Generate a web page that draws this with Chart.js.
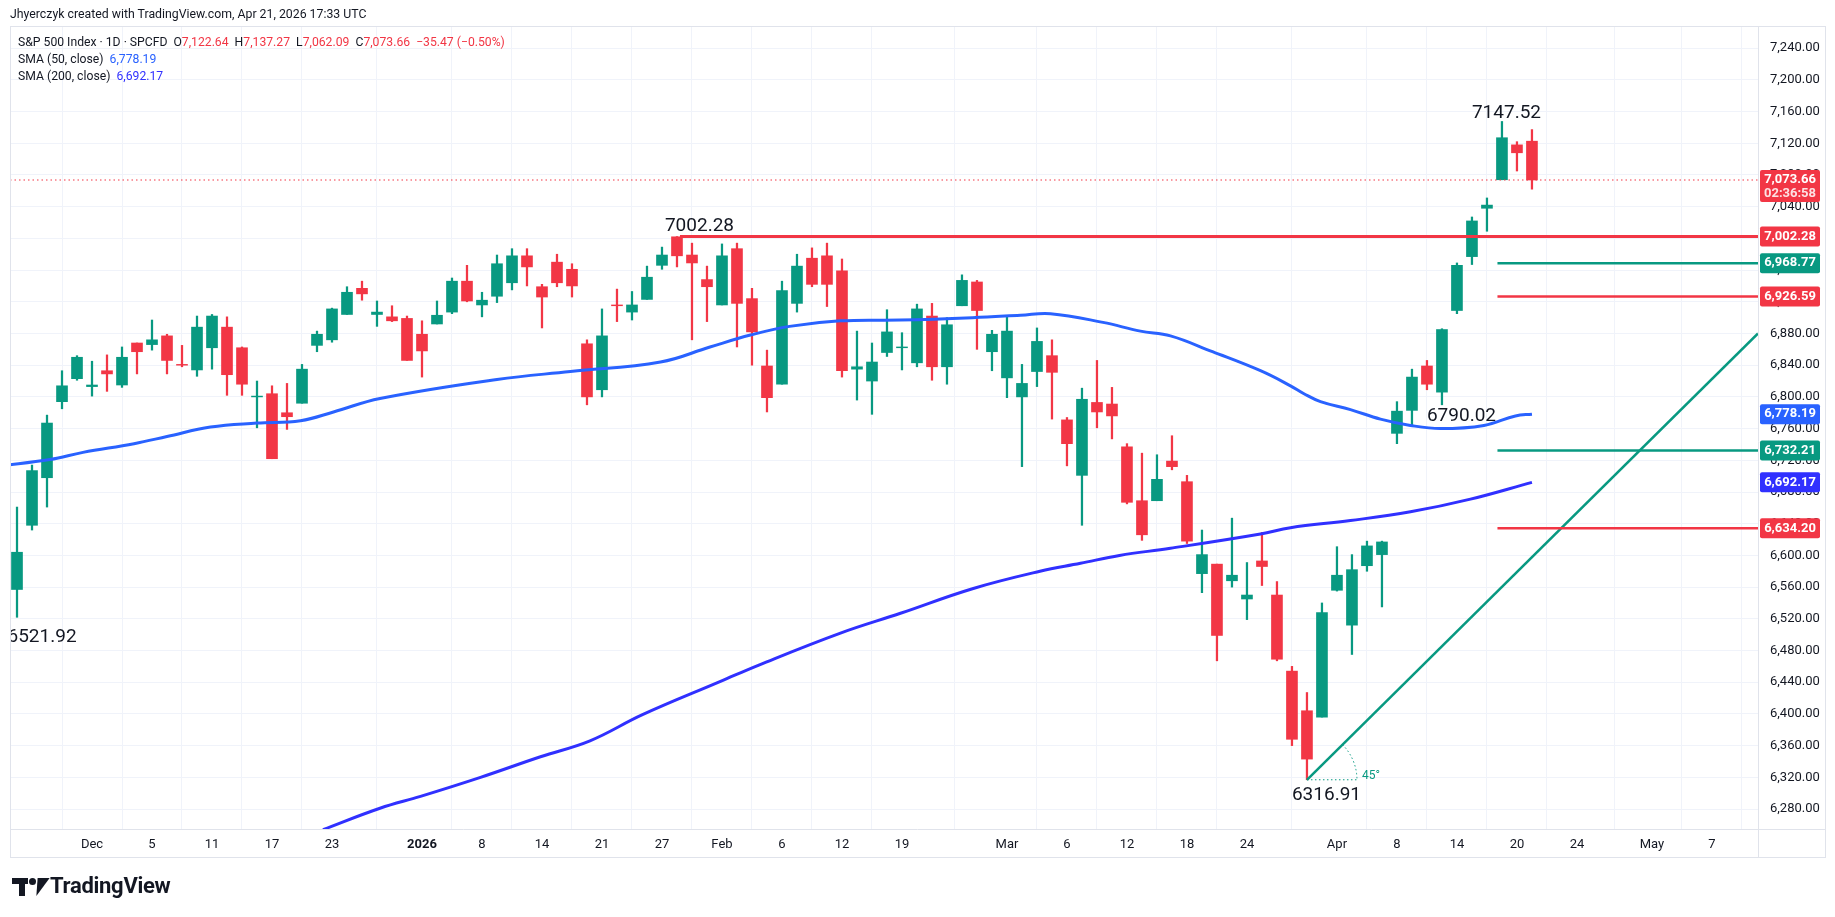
<!DOCTYPE html>
<html><head><meta charset="utf-8">
<script src="https://cdn.jsdelivr.net/npm/chart.js@4"></script>
<style>
html,body{margin:0;padding:0;background:#fff;width:1835px;height:917px;overflow:hidden;font-family:Roboto,"Liberation Sans",sans-serif;color:#131722}
#c{position:absolute;left:0;top:0}
.t{position:absolute;white-space:nowrap}
.r{color:#f23645}.b1{color:#2962ff}.b2{color:#3030ff}
</style></head><body>
<canvas id="c" width="1835" height="917"></canvas>
<div class="t" style="left:10px;top:7px;font-size:12.3px;">Jhyerczyk created with TradingView.com, Apr 21, 2026 17:33 UTC</div>
<div class="t" style="left:18px;top:35px;font-size:12.2px;">S&amp;P 500 Index · 1D · SPCFD&nbsp; O<span class="r">7,122.64</span>&nbsp; H<span class="r">7,137.27</span>&nbsp; L<span class="r">7,062.09</span>&nbsp; C<span class="r">7,073.66</span>&nbsp; <span class="r">−35.47 (−0.50%)</span></div>
<div class="t" style="left:18px;top:52px;font-size:12.2px;">SMA (50, close)&nbsp; <span class="b1">6,778.19</span></div>
<div class="t" style="left:18px;top:69px;font-size:12.2px;">SMA (200, close)&nbsp; <span class="b2">6,692.17</span></div>
<div class="t" style="left:12px;top:874px;height:26px;">
  <div style="position:absolute;left:0;top:4px;width:16px;height:6px;background:#131722"></div>
  <div style="position:absolute;left:7px;top:4px;width:6px;height:18px;background:#131722"></div>
  <div style="position:absolute;left:17px;top:4px;width:7px;height:7px;border-radius:50%;background:#131722"></div>
  <div style="position:absolute;left:22px;top:4px;width:0;height:0;border-left:6px solid transparent;border-right:6px solid transparent;border-top:18px solid #131722;transform:skewX(-22deg)"></div>
  <div style="position:absolute;left:38px;top:-1px;font-size:22px;font-weight:bold;letter-spacing:-0.3px;">TradingView</div>
</div>
<script>
// ---- data ----
const dates = ["Nov 21","Nov 24","Nov 25","Nov 26","Nov 28","Dec 1","Dec 2","Dec 3","Dec 4","Dec 5","Dec 8","Dec 9","Dec 10","Dec 11","Dec 12","Dec 15","Dec 16","Dec 17","Dec 18","Dec 19","Dec 22","Dec 23","Dec 24","Dec 26","Dec 29","Dec 30","Dec 31","Jan 2","Jan 5","Jan 6","Jan 7","Jan 8","Jan 9","Jan 12","Jan 13","Jan 14","Jan 15","Jan 16","Jan 20","Jan 21","Jan 22","Jan 23","Jan 26","Jan 27","Jan 28","Jan 29","Jan 30","Feb 2","Feb 3","Feb 4","Feb 5","Feb 6","Feb 9","Feb 10","Feb 11","Feb 12","Feb 13","Feb 17","Feb 18","Feb 19","Feb 20","Feb 23","Feb 24","Feb 25","Feb 26","Feb 27","Mar 2","Mar 3","Mar 4","Mar 5","Mar 6","Mar 9","Mar 10","Mar 11","Mar 12","Mar 13","Mar 16","Mar 17","Mar 18","Mar 19","Mar 20","Mar 23","Mar 24","Mar 25","Mar 26","Mar 27","Mar 30","Mar 31","Apr 1","Apr 2","Apr 6","Apr 7","Apr 8","Apr 9","Apr 10","Apr 13","Apr 14","Apr 15","Apr 16","Apr 17","Apr 20","Apr 21"];
const opens = [6557,6638,6698,6794,6823,6813,6833,6815,6868,6866,6877,6841,6834,6862,6888,6862,6800,6804,6780,6792,6865,6872,6904,6937,6904,6901,6899,6879,6892,6907,6946,6916,6927,6944,6978,6939,6970,6961,6867,6809,6916,6907,6923,6966,7002,6979,6948,6916,6987,6924,6839,6816,6918,6975,6978,6959,6835,6820,6856,6862,6843,6902,6838,6915,6945,6857,6824,6800,6832,6852,6771,6701,6793,6791,6737,6669,6669,6719,6693,6577,6589,6568,6545,6593,6550,6454,6404,6396,6556,6512,6587,6601,6754,6783,6839,6806,6909,6977,7038,7074,7118,7122.64];
const highs = [6661,6714,6777,6833,6852,6845,6853,6863,6868,6897,6879,6865,6902,6904,6901,6863,6820,6814,6817,6841,6883,6912,6939,6946,6921,6915,6902,6896,6921,6950,6966,6932,6979,6987,6987,6942,6980,6968,6872,6911,6936,6933,6965,6989,7002.28,6994,6965,6993,6994,6937,6859,6946,6980,6988,6994,6974,6883,6868,6910,6881,6917,6918,6900,6954,6947,6884,6902,6841,6887,6872,6774,6811,6846,6812,6741,6729,6727,6751,6701,6632,6589,6647,6591,6629,6567,6460,6427,6540,6611,6601,6618,6618,6794,6835,6846,6886,6969,7027,7051,7147.52,7122,7137.27];
const lows = [6521.92,6632,6661,6785,6821,6801,6807,6812,6829,6859,6829,6838,6826,6835,6802,6802,6761,6722,6759,6792,6857,6869,6904,6922,6889,6895,6846,6825,6892,6905,6920,6901,6919,6935,6940,6887,6939,6926,6790,6800,6895,6897,6923,6961,6964,6872,6895,6916,6863,6840,6781,6816,6907,6939,6914,6825,6796,6778,6851,6834,6838,6821,6816,6915,6860,6833,6799,6712,6813,6772,6713,6638,6761,6747,6665,6619,6669,6708,6615,6553,6467,6560,6519,6562,6467,6360,6316.91,6396,6555,6475,6580,6535,6741,6763,6809,6790.02,6905,6967,7009,7074,7085,7062.09];
const closes = [6604,6707,6767,6814,6850,6815,6829,6850,6857,6872,6846,6840,6888,6902,6828,6816,6801,6722,6775,6835,6879,6911,6932,6930,6907,6896,6846,6858,6903,6946,6921,6922,6968,6978,6964,6926,6944,6940,6800,6877,6915,6916,6951,6979,6978,6969,6939,6978,6918,6882,6799,6934,6965,6942,6942,6833,6838,6844,6882,6863,6911,6838,6891,6947,6909,6879,6883,6817,6870,6831,6741,6797,6781,6776,6667,6626,6696,6712,6618,6601,6499,6575,6550,6586,6469,6368,6343,6528,6575,6582,6612,6617,6782,6825,6816,6885,6966,7022,7042,7127,7108,7073.66];
const sma50Idx = [-1.13,2.2,4.4,7.8,10,12.9,16,18.9,21.1,24.2,32,36.9,42.9,46.2,48.9,51.5,54.9,58.9,63.7,66.9,68.9,72.4,74.9,76.9,79.7,82.9,84.9,85.8,86.9,88.9,90.9,92.9,94.9,97.8,99.9,101];
const sma50Val = [6713,6721,6730,6741,6750,6762,6767,6770,6781,6798,6822,6832,6844,6863,6878,6889,6896,6897,6900,6903,6905,6894,6883,6877,6857,6833,6814,6804,6794,6784,6772,6764,6760,6764,6776,6778.19];
const sma200Idx = [20.4,24.2,26.9,30.9,34.9,38.2,41.7,46.9,49.5,54.9,58.9,63.7,68.2,70.9,73.5,76.9,82.9,84.9,88.9,92.9,96.9,101];
const sma200Val = [6254,6281,6296,6320,6346,6366,6399,6441,6462,6502,6527,6558,6580,6590,6600,6609,6627,6635,6644,6655,6671,6692.17];
const xTickIdx = [5,9,13,17,21,27,31,35,39,43,47,51,55,59,66,70,74,78,82,88,92,96,100,104,109,113];
const xTickLabels = ["Dec","5","11","17","23","2026","8","14","21","27","Feb","6","12","19","Mar","6","12","18","24","Apr","8","14","20","24","May","7"];
const yTicks = [6280,6320,6360,6400,6440,6480,6520,6560,6600,6640,6680,6720,6760,6800,6840,6880,6920,6960,7000,7040,7080,7120,7160,7200,7240];
const levels = [ // [price, startIdx, colorKey]
  [7002.28,44.2,'r'],[6968.77,98.7,'g'],[6926.59,98.7,'r'],[6732.21,98.7,'g'],[6634.20,98.7,'r']];
const trendStart = [86,6316.91], trendEnd = [116.07,6880];
const lastPrice = 7073.66;
const priceLabels = [[7073.66,'r','02:36:58'],[7002.28,'r'],[6968.77,'g'],[6926.59,'r'],[6778.19,'b1'],[6732.21,'g'],[6692.17,'b2'],[6634.20,'r']];
const textNotes = [["7002.28",45.5,7015],["7147.52",99.3,7158],["6790.02",96.3,6776],["6316.91",87.3,6297],["6521.92",1.67,6497]];
// ---- styling ----
const COL = {g:'#089981', r:'#f23645', b1:'#2962ff', b2:'#3030ff'};
const XMIN=-0.467, XMAX=116.07, YMIN=6254.8, YMAX=7267.97;
const fmt = v => v.toLocaleString('en-US',{minimumFractionDigits:2,maximumFractionDigits:2});

const bodyColors = closes.map((c,i)=> c>=opens[i]?COL.g:COL.r);
const ds = [];
ds.push({type:'bar',data:dates.map((d,i)=>({x:i,y:[lows[i],highs[i]]})),backgroundColor:bodyColors,barThickness:1.6,grouped:false,order:2});
ds.push({type:'bar',data:dates.map((d,i)=>{let a=opens[i],b=closes[i];if(Math.abs(a-b)<0.8){b=a+0.8;}return {x:i,y:[a,b]};}),backgroundColor:bodyColors,barThickness:11,grouped:false,order:1});
ds.push({type:'line',data:sma50Idx.map((x,i)=>({x,y:sma50Val[i]})),borderColor:COL.b1,borderWidth:3,pointRadius:0,tension:0.4,order:0});
ds.push({type:'line',data:sma200Idx.map((x,i)=>({x,y:sma200Val[i]})),borderColor:COL.b2,borderWidth:3,pointRadius:0,tension:0.4,order:0});
levels.forEach(l=>ds.push({type:'line',data:[{x:l[1],y:l[0]},{x:XMAX,y:l[0]}],borderColor:COL[l[2]],borderWidth:l[2]==='r'&&l[0]>7000?3:2.5,pointRadius:0,order:0}));
ds.push({type:'line',data:[{x:trendStart[0],y:trendStart[1]},{x:trendEnd[0],y:trendEnd[1]}],borderColor:COL.g,borderWidth:2.5,pointRadius:0,order:0});
ds.push({type:'line',data:[{x:XMIN,y:lastPrice},{x:XMAX,y:lastPrice}],borderColor:COL.r,borderWidth:1,borderDash:[1.5,3],pointRadius:0,order:0});

const deco = {
  id:'deco',
  afterDatasetsDraw(chart){
    const ctx=chart.ctx, xs=chart.scales.x, ys=chart.scales.y, a=chart.chartArea;
    ctx.save();
    ctx.beginPath();ctx.rect(a.left,a.top,a.right-a.left,a.bottom-a.top);ctx.clip();
    const px=xs.getPixelForValue(trendStart[0]), py=ys.getPixelForValue(trendStart[1]);
    ctx.strokeStyle=COL.g;ctx.lineWidth=1;ctx.setLineDash([1.5,2.5]);
    ctx.beginPath();ctx.moveTo(px,py);ctx.lineTo(px+50,py);ctx.stroke();
    const ex=xs.getPixelForValue(trendEnd[0]), ey=ys.getPixelForValue(trendEnd[1]);
    const ang=Math.atan2(ey-py,ex-px);
    ctx.beginPath();ctx.arc(px,py,50,ang,0);ctx.stroke();
    ctx.setLineDash([]);
    ctx.fillStyle=COL.g;ctx.font='12px Roboto, sans-serif';ctx.textBaseline='middle';ctx.textAlign='left';
    ctx.fillText('45°',px+55,py-4);
    ctx.fillStyle='#131722';ctx.font='19px Roboto, sans-serif';ctx.textAlign='center';
    textNotes.forEach(n=>ctx.fillText(n[0],xs.getPixelForValue(n[1]),ys.getPixelForValue(n[2])));
    ctx.restore();
    ctx.save();ctx.strokeStyle='#e0e3eb';ctx.lineWidth=1;
    ctx.strokeRect(a.left+0.5,a.top+0.5,1825-a.left,857-a.top);
    ctx.beginPath();ctx.moveTo(a.right+0.5,a.top);ctx.lineTo(a.right+0.5,857);ctx.moveTo(a.left,a.bottom+0.5);ctx.lineTo(1825,a.bottom+0.5);ctx.stroke();
    priceLabels.forEach(p=>{
      const y=ys.getPixelForValue(p[0]); const h=p[2]?32:20; const top=p[2]?y-10:y-h/2;
      ctx.fillStyle=COL[p[1]];
      ctx.beginPath();ctx.roundRect(1760,top,60,h,2);ctx.fill();
      ctx.fillStyle='#fff';ctx.font='bold 13px Roboto, sans-serif';ctx.textAlign='center';ctx.textBaseline='middle';
      ctx.fillText(fmt(p[0]),1790,y);
      if(p[2]){ctx.fillStyle='rgba(255,255,255,0.85)';ctx.fillText(p[2],1790,y+14);}
    });
    ctx.restore();
  }
};

new Chart(document.getElementById('c'),{
  data:{datasets:ds},
  options:{
    responsive:false,animation:false,devicePixelRatio:1,
    layout:{padding:{left:10,top:26,right:10,bottom:60}},
    plugins:{legend:{display:false},tooltip:{enabled:false}},
    scales:{
      x:{type:'linear',min:XMIN,max:XMAX,offset:false,
        afterBuildTicks:s=>{s.ticks=xTickIdx.map(v=>({value:v}));},
        afterFit:s=>{s.height=28;},
        grid:{color:'#f0f3fa',drawTicks:false},border:{display:false},
        ticks:{autoSkip:false,maxRotation:0,padding:8,color:'#131722',
          font:c=>({family:'Roboto, sans-serif',size:13,weight:xTickLabels[c.index]==='2026'?'bold':'normal'}),
          callback:(v,i)=>xTickLabels[i]}},
      y:{type:'linear',position:'right',min:YMIN,max:YMAX,
        afterBuildTicks:s=>{s.ticks=yTicks.map(v=>({value:v}));},
        afterFit:s=>{s.width=67;},
        grid:{color:'#f0f3fa',drawTicks:false},border:{display:false},
        ticks:{padding:12,color:'#131722',font:{family:'Roboto, sans-serif',size:13},callback:v=>fmt(v)}}
    }
  },
  plugins:[deco]
});
</script>
</body></html>
